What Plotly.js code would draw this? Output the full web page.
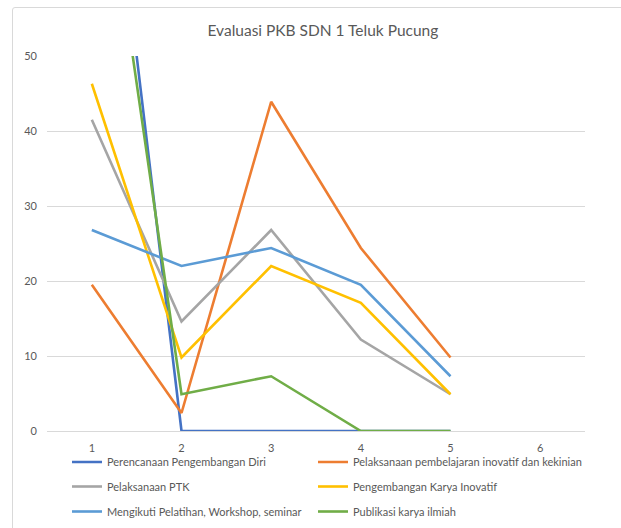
<!DOCTYPE html>
<html>
<head>
<meta charset="utf-8">
<script src="https://cdn.plot.ly/plotly-3.0.1.min.js"></script>
<style>
  html, body { margin:0; padding:0; background:#fff; overflow:hidden; }
  #chart { width:621px; height:528px; }
  #frame { position:absolute; left:12px; top:7px; width:640px; height:560px;
           border:1px solid #d9d9d9; border-radius:3px; pointer-events:none; }
</style>
</head>
<body>
<div id="chart"></div>
<div id="frame"></div>
<script>
const categories = [1, 2, 3, 4, 5];
const tickLabels = [1, 2, 3, 4, 5, 6];
const seriesNames = [
  "Perencanaan Pengembangan Diri",
  "Pelaksanaan pembelajaran inovatif dan kekinian",
  "Pelaksanaan PTK",
  "Pengembangan Karya Inovatif",
  "Mengikuti Pelatihan, Workshop, seminar",
  "Publikasi karya ilmiah"
];
const perencanaan = [100, 0, 0, 0, 0];
const pembelajaran = [19.5, 2.4, 43.9, 24.4, 9.8];
const ptk = [41.5, 14.6, 26.8, 12.2, 4.9];
const karyaInovatif = [46.3, 9.8, 22.0, 17.1, 4.9];
const pelatihan = [26.8, 22.0, 24.4, 19.5, 7.3];
const publikasi = [87.8, 4.9, 7.3, 0, 0];

const seriesValues = [perencanaan, pembelajaran, ptk, karyaInovatif, pelatihan, publikasi];
const colors = ["#4472C4", "#ED7D31", "#A5A5A5", "#FFC000", "#5B9BD5", "#70AD47"];
const legendIds = ["legend", "legend2", "legend3", "legend4", "legend5", "legend6"];

const FONT = "Lato, 'Liberation Sans', sans-serif";

const traces = seriesValues.map((vals, i) => ({
  type: "scatter",
  mode: "lines",
  x: categories,
  y: vals,
  name: seriesNames[i],
  legend: legendIds[i],
  line: { color: colors[i], width: 2.6 },
  hoverinfo: "x+y+name"
}));

// legend grid: two columns, three rows (positions in container pixels)
const colX = [67, 313];
const rowY = [462, 486.5, 511.5];

const layout = {
  width: 621, height: 528,
  margin: { l: 47, r: 36, t: 56, b: 97 },
  paper_bgcolor: "#ffffff",
  plot_bgcolor: "#ffffff",
  font: { family: FONT, color: "#595959" },
  title: {
    text: "Evaluasi PKB SDN 1 Teluk Pucung",
    font: { family: FONT, size: 15.5, color: "#595959" },
    x: 0.52, xanchor: "center",
    y: 0.943, yanchor: "middle"
  },
  xaxis: {
    range: [0.5, 6.5],
    tickmode: "array",
    tickvals: tickLabels,
    ticktext: tickLabels.map(String),
    showgrid: false,
    zeroline: false,
    showline: false,
    ticks: "",
    ticklabelstandoff: 9,
    tickfont: { family: FONT, size: 11, color: "#595959" },
    fixedrange: true
  },
  yaxis: {
    range: [0, 50],
    tickvals: [0, 10, 20, 30, 40, 50],
    showgrid: true,
    gridcolor: "#d9d9d9",
    gridwidth: 1,
    zeroline: true,
    zerolinecolor: "#d9d9d9",
    zerolinewidth: 1,
    showline: false,
    ticks: "",
    ticklabelstandoff: 9,
    tickfont: { family: FONT, size: 11, color: "#595959" },
    fixedrange: true
  },
  showlegend: true
};

legendIds.forEach((id, i) => {
  layout[id] = {
    orientation: "h",
    xref: "container", yref: "container",
    xanchor: "left", yanchor: "middle",
    x: colX[i % 2] / 621,
    y: 1 - rowY[Math.floor(i / 2)] / 528,
    font: { family: FONT, size: 11, color: "#595959" },
    bgcolor: "rgba(0,0,0,0)"
  };
});

Plotly.newPlot("chart", traces, layout, { displayModeBar: false, staticPlot: true });
</script>
</body>
</html>
